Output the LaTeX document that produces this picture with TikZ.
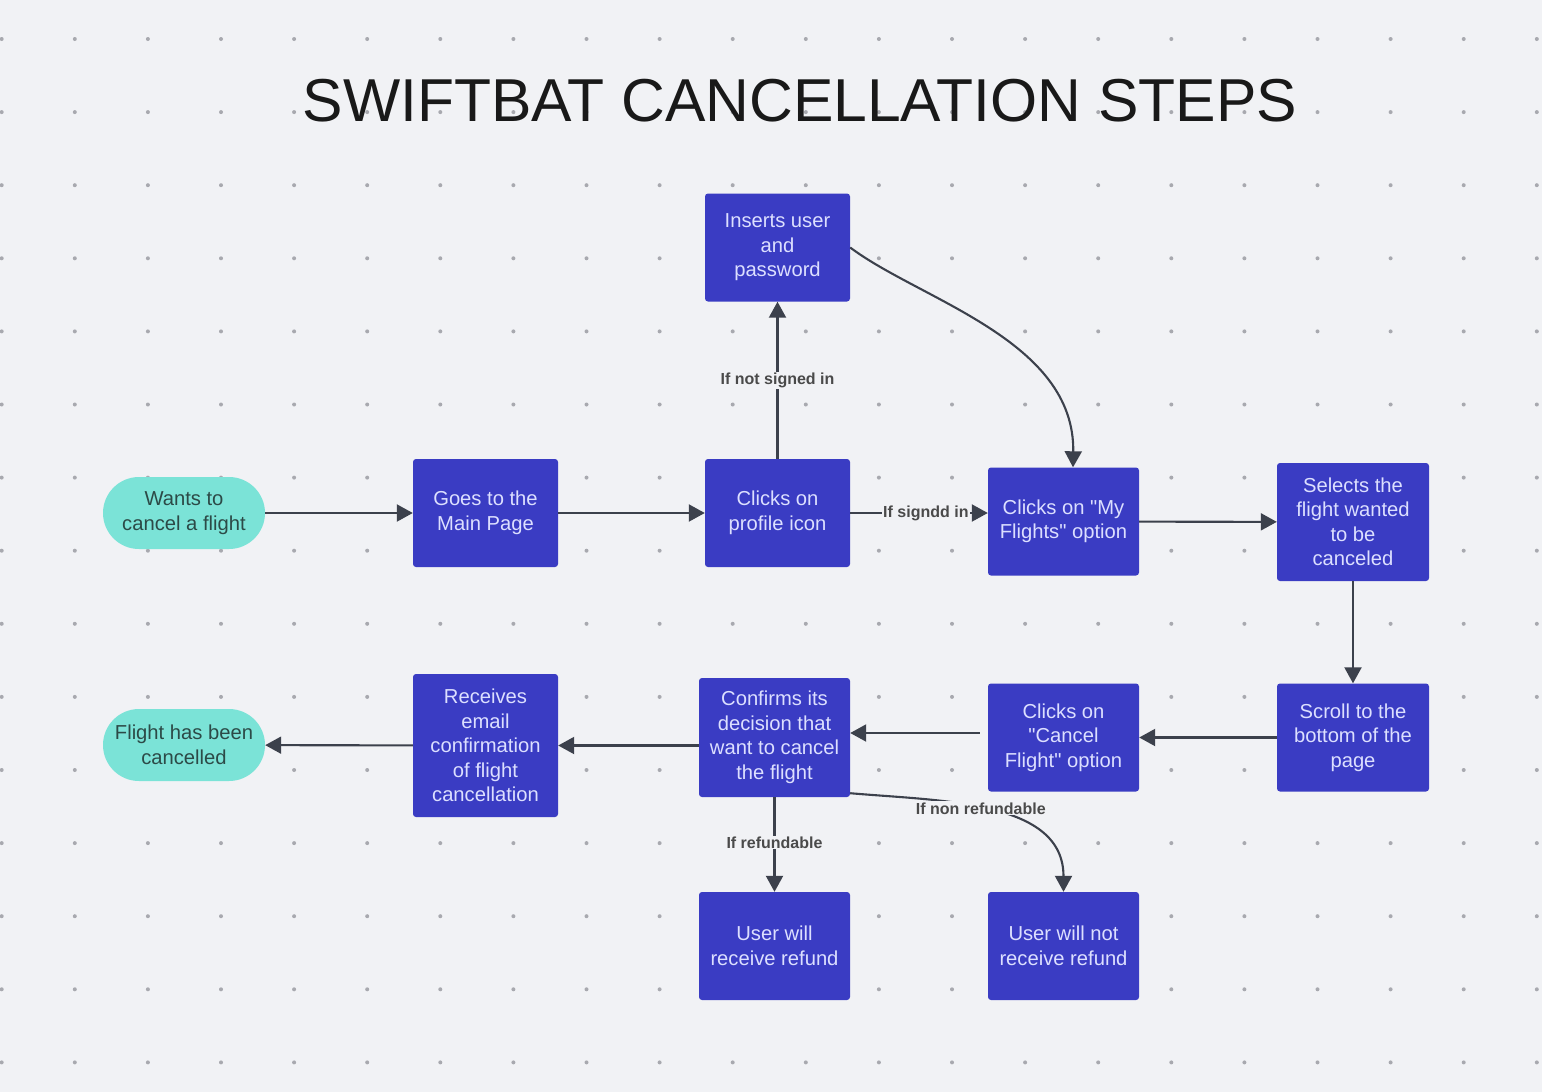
\documentclass[tikz,border=0pt]{standalone}
\usepackage{fontspec}
\setmainfont{Liberation Sans}[Ligatures=TeXOff]
\usetikzlibrary{arrows.meta,positioning,calc}
\usepackage{xcolor}
\definecolor{paper}{HTML}{F1F2F5}
\definecolor{boxblue}{HTML}{3A3CC3}
\definecolor{boxtext}{HTML}{DCDFFF}
\definecolor{mint}{HTML}{7BE3D7}
\definecolor{minttext}{HTML}{2C4A47}
\definecolor{ink}{HTML}{3C414C}
\definecolor{dotgrey}{HTML}{A8A9AF}
\definecolor{labelgrey}{HTML}{4A4A4A}
\tikzset{
  stepbox/.style={rectangle,rounded corners=3pt,fill=boxblue,text=boxtext,align=center,
    minimum width=145pt,minimum height=108pt,inner sep=0pt,font=\fontsize{20.2}{24.5}\selectfont},
  widebox/.style={stepbox,minimum width=151pt},
  endbox/.style={rectangle,rounded corners=36pt,fill=mint,text=minttext,align=center,
    minimum width=162pt,minimum height=72pt,inner sep=0pt,font=\fontsize{20.2}{24.5}\selectfont},
  flow/.style={-{Triangle[length=16pt,width=17pt]},line width=2.1pt,color=ink},
  cond/.style={fill=paper,text=labelgrey,inner sep=1pt,font=\fontsize{16}{18}\selectfont\bfseries},
}

\begin{document}
\begin{tikzpicture}[x=1pt,y=-1pt]
  \useasboundingbox (0,0) rectangle (1542,1092);
  \fill[paper] (0,0) rectangle (1542,1092);
  \foreach \i in {0,...,21} \foreach \j in {0,...,14}
    \fill[dotgrey] (1.7+73.1*\i,39+73.1*\j) circle (2pt);
  \node[font=\fontsize{60.6}{70}\selectfont,text=black!90] (title) at (800,101){SWIFTBAT CANCELLATION STEPS};
  % top row
  \node[endbox] (want) at (184,513){Wants to\\cancel a flight};
  \node[stepbox] (mainpage) at (485.5,513){Goes to the\\Main Page};
  \node[stepbox] (profile) at (777.5,513){Clicks on\\profile icon};
  \node[stepbox] (login) at (777.5,247.5){Inserts user\\and\\password};
  \node[widebox] (myflights) at (1063.5,521.5){Clicks on "My\\Flights" option};
  \node[widebox,minimum width=152pt,minimum height=118pt] (selects) at (1353,522){Selects the\\flight wanted\\to be\\canceled};
  % bottom row
  \node[widebox,minimum width=152pt] (scroll) at (1353,737.5){Scroll to the\\bottom of the\\page};
  \node[widebox] (cancel) at (1063.5,737.5){Clicks on\\"Cancel\\Flight" option};
  \node[widebox,minimum height=119pt] (confirms) at (774.5,737.5){Confirms its\\decision that\\want to cancel\\the flight};
  \node[stepbox,minimum height=143pt] (receives) at (485.5,745.5){Receives\\email\\confirmation\\of flight\\cancellation};
  \node[endbox] (cancelled) at (184,745){Flight has been\\cancelled};
  \node[widebox] (refund) at (774.5,946){User will\\receive refund};
  \node[widebox] (norefund) at (1063.5,946){User will not\\receive refund};
  % connectors
  \draw[flow] (want)--(mainpage); \draw[flow] (mainpage)--(profile);
  \draw[flow] (profile)--node[cond]{If not signed in}(login);
  \draw[flow] (profile)--node[cond,pos=0.55]{If signdd in}(profile -| myflights.west);
  \draw[flow] (login.east) .. controls (920,300) and (1075,340) .. ($(myflights.north)+(9.5,0)$);
  \draw[flow] (myflights)--(selects); \draw[flow] (selects)--(scroll);
  \draw[flow] (scroll)--(cancel);
  \draw[flow,shorten <=8pt] ([yshift=4.5pt]cancel.west)--([yshift=4.5pt]cancel.west -| confirms.east);
  \draw[flow] (confirms.west |- receives)--(receives); \draw[flow] (receives)--(cancelled);
  \draw[flow] (confirms.south)--node[cond,pos=0.48]{If refundable}(refund);
  \draw[flow] ([yshift=4pt]confirms.south east) to[out=-5,in=90] node[cond,pos=0.46]{If non refundable} (norefund);
\end{tikzpicture}
\end{document}
